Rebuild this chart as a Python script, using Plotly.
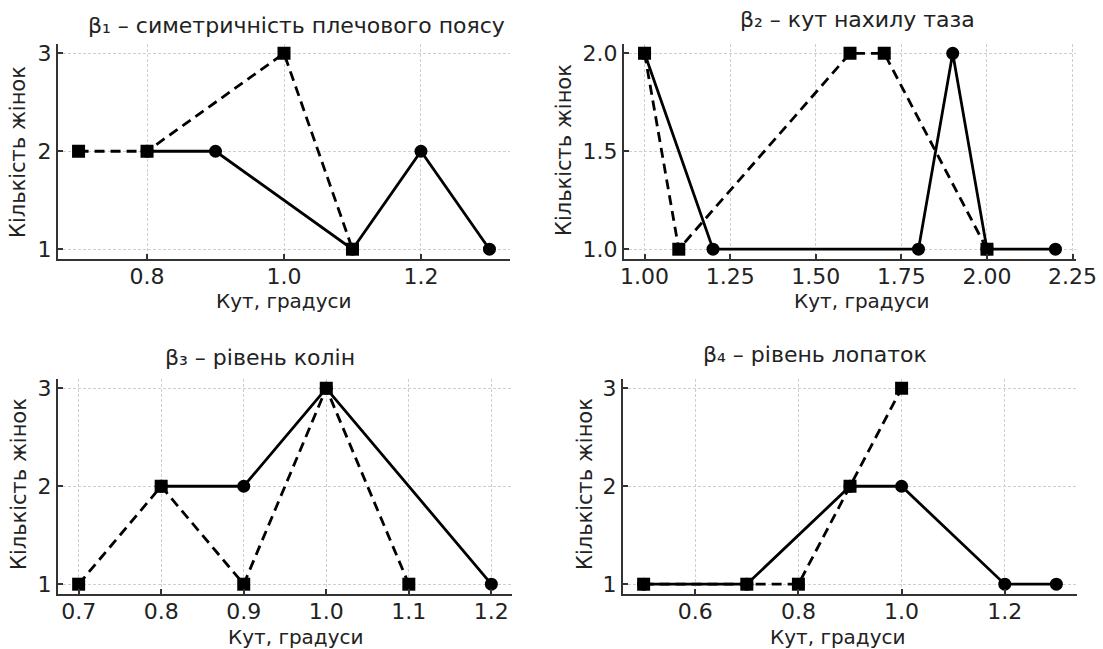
import plotly.graph_objects as go

W, H = 1103, 649

# ---- data ----
# β1
b1_solid_x = [0.8, 0.9, 1.1, 1.2, 1.3]
b1_solid_y = [2, 2, 1, 2, 1]
b1_dash_x = [0.7, 0.8, 1.0, 1.1]
b1_dash_y = [2, 2, 3, 1]
# β2
b2_solid_x = [1.0, 1.2, 1.8, 1.9, 2.0, 2.2]
b2_solid_y = [2, 1, 1, 2, 1, 1]
b2_dash_x = [1.0, 1.1, 1.6, 1.7, 2.0]
b2_dash_y = [2, 1, 2, 2, 1]
# β3
b3_solid_x = [0.8, 0.9, 1.0, 1.2]
b3_solid_y = [2, 2, 3, 1]
b3_dash_x = [0.7, 0.8, 0.9, 1.0, 1.1]
b3_dash_y = [1, 2, 1, 3, 1]
# β4
b4_solid_x = [0.5, 0.7, 0.9, 1.0, 1.2, 1.3]
b4_solid_y = [1, 1, 2, 2, 1, 1]
b4_dash_x = [0.5, 0.7, 0.8, 0.9, 1.0]
b4_dash_y = [1, 1, 1, 2, 3]

titles = ["β₁ – симетричність плечового поясу", "β₂ – кут нахилу таза",
          "β₃ – рівень колін", "β₄ – рівень лопаток"]
xlabel = "Кут, градуси"
ylabel = "Кількість жінок"

x1_ticks = [0.8, 1.0, 1.2]
x1_text = ["0.8", "1.0", "1.2"]
x2_ticks = [1.0, 1.25, 1.5, 1.75, 2.0, 2.25]
x2_text = ["1.00", "1.25", "1.50", "1.75", "2.00", "2.25"]
x3_ticks = [0.7, 0.8, 0.9, 1.0, 1.1, 1.2]
x3_text = ["0.7", "0.8", "0.9", "1.0", "1.1", "1.2"]
x4_ticks = [0.6, 0.8, 1.0, 1.2]
x4_text = ["0.6", "0.8", "1.0", "1.2"]
y_int_ticks = [1, 2, 3]
y_int_text = ["1", "2", "3"]
y2_ticks = [1.0, 1.5, 2.0]
y2_text = ["1.0", "1.5", "2.0"]

FONT = "DejaVu Sans"
BLACK = "#000000"
TXT = "#222222"

fig = go.Figure()

panels = [
    (b1_solid_x, b1_solid_y, b1_dash_x, b1_dash_y),
    (b2_solid_x, b2_solid_y, b2_dash_x, b2_dash_y),
    (b3_solid_x, b3_solid_y, b3_dash_x, b3_dash_y),
    (b4_solid_x, b4_solid_y, b4_dash_x, b4_dash_y),
]
for i, (sx, sy, dx, dy) in enumerate(panels):
    suf = "" if i == 0 else str(i + 1)
    fig.add_trace(go.Scatter(
        x=sx, y=sy, mode="lines+markers", xaxis="x" + suf, yaxis="y" + suf,
        line=dict(color=BLACK, width=2.8),
        marker=dict(symbol="circle", size=13, color=BLACK),
        showlegend=False, hoverinfo="skip"))
    fig.add_trace(go.Scatter(
        x=dx, y=dy, mode="lines+markers", xaxis="x" + suf, yaxis="y" + suf,
        line=dict(color=BLACK, width=2.8, dash="10px,6px"),
        marker=dict(symbol="square", size=13, color=BLACK),
        showlegend=False, hoverinfo="skip"))

def px_x(p):
    return p / W

def px_y(p):
    return 1 - p / H

dom_x = [(px_x(58), px_x(510)), (px_x(624), px_x(1076)),
         (px_x(58), px_x(512)), (px_x(623), px_x(1077))]
dom_y = [(px_y(259), px_y(43.5)), (px_y(259), px_y(43.5)),
         (px_y(594), px_y(378.5)), (px_y(594), px_y(378.5))]
x_ranges = [[0.67, 1.33], [0.94, 2.26], [0.675, 1.225], [0.46, 1.34]]
y_ranges = [[0.9, 3.1], [0.95, 2.05], [0.9, 3.1], [0.9, 3.1]]
x_ticks = [(x1_ticks, x1_text), (x2_ticks, x2_text), (x3_ticks, x3_text), (x4_ticks, x4_text)]
y_ticks = [(y_int_ticks, y_int_text), (y2_ticks, y2_text), (y_int_ticks, y_int_text), (y_int_ticks, y_int_text)]

common = dict(
    showline=True, linecolor="#333333", linewidth=2, mirror=False,
    ticks="inside", ticklen=5, tickwidth=1.5, tickcolor="#333333",
    showgrid=True, gridcolor="#cfcfcf", gridwidth=1, griddash="3px,2px",
    zeroline=False, tickfont=dict(family=FONT, size=22, color=TXT),
    tickmode="array", fixedrange=True, automargin=False,
)

layout = {}
for i in range(4):
    suf = "" if i == 0 else str(i + 1)
    layout["xaxis" + suf] = dict(
        common, domain=list(dom_x[i]), range=x_ranges[i],
        anchor="y" + suf, tickvals=x_ticks[i][0], ticktext=x_ticks[i][1],
        ticklabelstandoff=-3)
    layout["yaxis" + suf] = dict(
        common, domain=list(dom_y[i]), range=y_ranges[i],
        anchor="x" + suf, tickvals=y_ticks[i][0], ticktext=y_ticks[i][1])

ann = []
title_pos = [(296, 25), (857, 19), (260, 357), (815, 354)]
for t, (px, py) in zip(titles, title_pos):
    ann.append(dict(text=t, x=px_x(px), y=px_y(py), xref="paper", yref="paper",
                    xanchor="center", yanchor="middle", showarrow=False,
                    font=dict(family=FONT, size=22, color=TXT)))
xl_pos = [(284, 301), (862, 301), (296, 637), (838, 637)]
for (px, py) in xl_pos:
    ann.append(dict(text=xlabel, x=px_x(px), y=px_y(py), xref="paper", yref="paper",
                    xanchor="center", yanchor="middle", showarrow=False,
                    font=dict(family=FONT, size=20, color=TXT)))
yl_pos = [(18, 152), (564, 150), (19, 484), (585, 484)]
for (px, py) in yl_pos:
    ann.append(dict(text=ylabel, x=px_x(px), y=px_y(py), xref="paper", yref="paper",
                    xanchor="center", yanchor="middle", showarrow=False, textangle=-90,
                    font=dict(family=FONT, size=21, color=TXT)))

fig.update_layout(
    template="none",
    width=W, height=H, margin=dict(l=0, r=0, t=0, b=0, autoexpand=False),
    font=dict(family=FONT, color=TXT),
    paper_bgcolor="white", plot_bgcolor="white",
    annotations=ann, **layout)

fig.write_html(
    "out.html", config={"displayModeBar": False},
    post_script="document.body.style.margin='0';document.body.style.overflow='hidden';")
